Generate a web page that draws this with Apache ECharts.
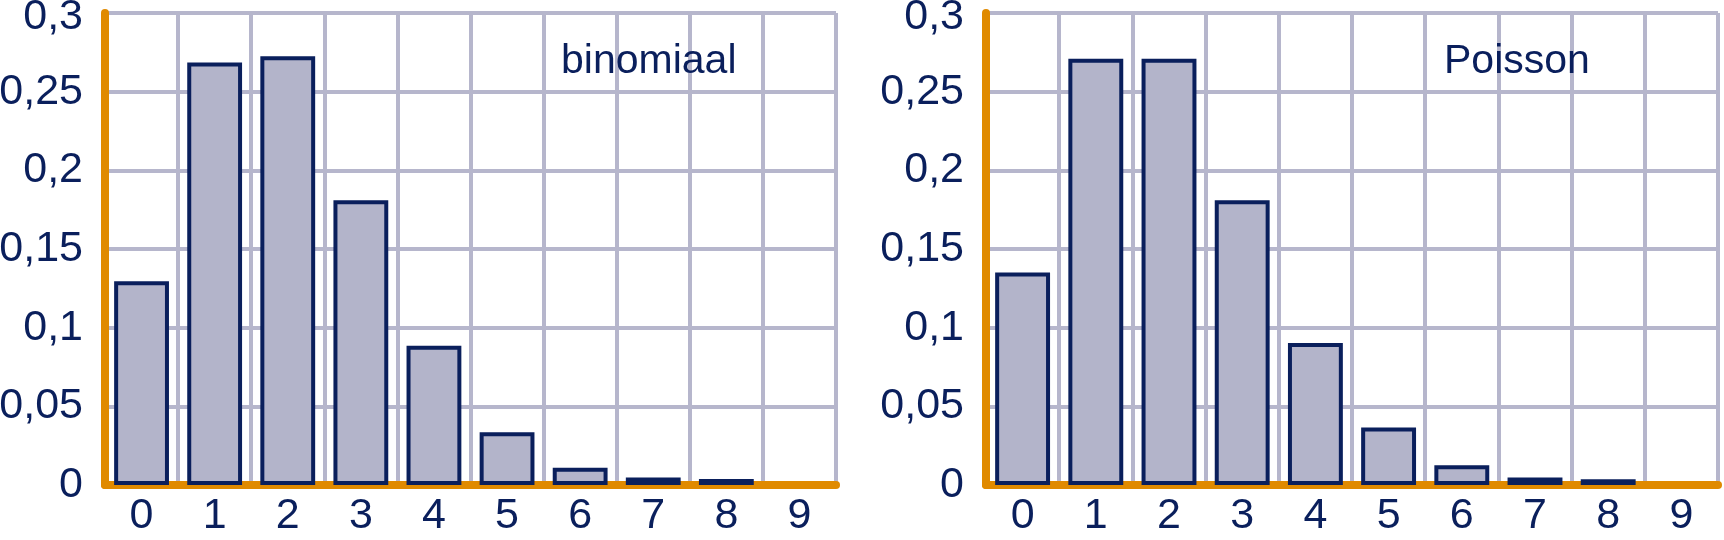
<!DOCTYPE html>
<html>
<head>
<meta charset="utf-8">
<script src="https://cdn.jsdelivr.net/npm/echarts@6/dist/echarts.min.js"></script>
<style>
html,body{margin:0;padding:0;background:#fff;}
#chart{width:1724px;height:540px;}
</style>
</head>
<body>
<div id="chart"></div>
<script>
const categories = ['0','1','2','3','4','5','6','7','8','9'];
const binomialValues = [0.1295, 0.2685, 0.2725, 0.181, 0.0885, 0.0335, 0.011, 0.0048, 0.0038, 0];
const poissonValues = [0.135, 0.271, 0.271, 0.181, 0.0903, 0.0365, 0.0125, 0.0048, 0.0037, 0];
const yTickLabels = ['0','0,05','0,1','0,15','0,2','0,25','0,3'];
const panelTitles = ['binomiaal','Poisson'];

const NAVY = '#0a1f5c';
const ORANGE = '#e08a00';
const GRIDC = '#b6b6cc';
const FILL = '#b3b4ca';
const FONT = "'Liberation Sans', Arial, sans-serif";
const FS = 43;
const TFS = 41;

const grids = [
  {left: 105, top: 13, width: 731, height: 472, containLabel:false, outerBoundsMode:'none'},
  {left: 986, top: 13, width: 732, height: 472, containLabel:false, outerBoundsMode:'none'}
];

function xAxisFor(i){
  return {
    type:'category', gridIndex:i, data:categories, boundaryGap:true,
    axisLine:{show:true, onZero:false, lineStyle:{color:ORANGE, width:8, cap:'round'}},
    axisTick:{show:false},
    axisLabel:{color:NAVY, fontSize:FS, fontFamily:FONT, margin:10, interval:0},
    splitLine:{show:true, interval:0, lineStyle:{color:GRIDC, width:4}}
  };
}
function yAxisFor(i){
  return {
    type:'value', gridIndex:i, min:0, max:0.3, interval:0.05,
    axisLine:{show:true, lineStyle:{color:ORANGE, width:8, cap:'round'}},
    axisTick:{show:false},
    axisLabel:{color:NAVY, fontSize:FS, fontFamily:FONT, margin:22,
      formatter:function(v){
        const idx = Math.round(v/0.05);
        const s = yTickLabels[idx];
        return idx === yTickLabels.length - 1 ? '{top|' + s + '}' : s;
      },
      rich:{ top:{color:NAVY, fontSize:FS, fontFamily:FONT, padding:[8,0,0,0]} }
    },
    splitLine:{show:true, lineStyle:{color:GRIDC, width:4}}
  };
}
function seriesFor(i, vals){
  return {
    type:'bar', xAxisIndex:i, yAxisIndex:i, barWidth:'75%',
    data: vals.map(v => v === 0 ? '-' : v),
    itemStyle:{color:FILL, borderColor:NAVY, borderWidth:4},
    emphasis:{disabled:true},
    animation:false
  };
}

const chart = echarts.init(document.getElementById('chart'), null, {renderer:'canvas'});
chart.setOption({
  animation:false,
  backgroundColor:'#ffffff',
  title: [
    {text:panelTitles[0], left:561, top:41, padding:0, textStyle:{color:NAVY, fontSize:TFS, fontWeight:'normal', fontFamily:FONT}},
    {text:panelTitles[1], left:1444, top:41, padding:0, textStyle:{color:NAVY, fontSize:TFS, fontWeight:'normal', fontFamily:FONT}}
  ],
  grid: grids,
  xAxis: [xAxisFor(0), xAxisFor(1)],
  yAxis: [yAxisFor(0), yAxisFor(1)],
  series: [seriesFor(0, binomialValues), seriesFor(1, poissonValues)]
});
</script>
</body>
</html>
